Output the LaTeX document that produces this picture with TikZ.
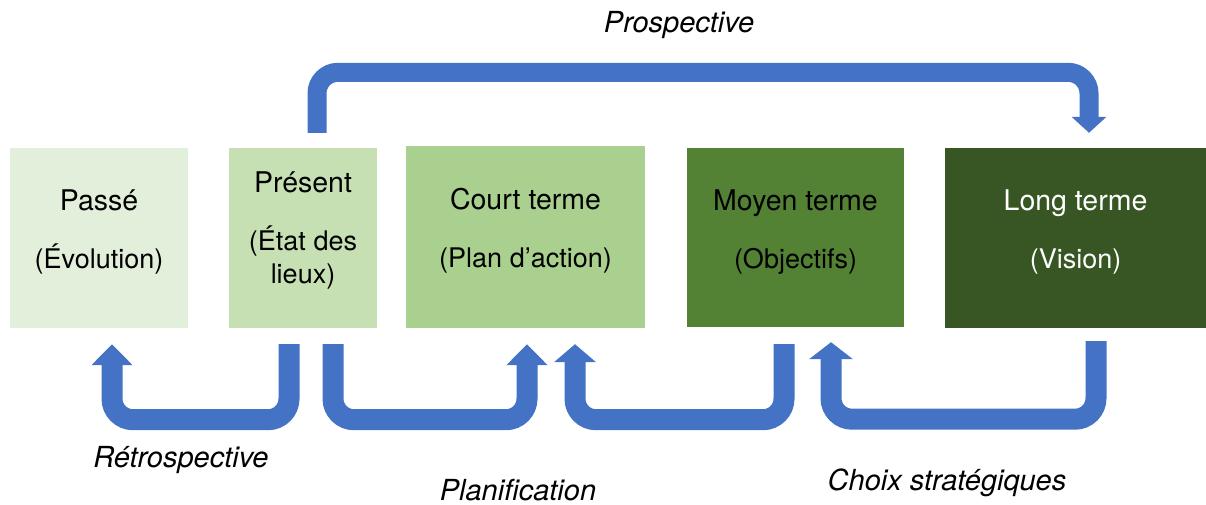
\documentclass[tikz,border=0pt]{standalone}
\usepackage{fontspec}
\setmainfont{TeX Gyre Heros}
\usetikzlibrary{arrows.meta}

\definecolor{cpasse}{HTML}{E2EFDA}
\definecolor{cpresent}{HTML}{C6E0B4}
\definecolor{ccourt}{HTML}{A9D08E}
\definecolor{cmoyen}{HTML}{548235}
\definecolor{clong}{HTML}{375623}
\definecolor{flowblue}{HTML}{4472C4}

\tikzset{
  stage/.style={inner sep=0pt, draw=none},
  ttl/.style={anchor=base, inner sep=0pt, font=\fontsize{28.5}{33}\selectfont},
  sub/.style={anchor=base, inner sep=0pt, font=\fontsize{27}{33}\selectfont},
  lbl/.style={anchor=base, inner sep=0pt, font=\fontsize{29}{33}\selectfont\itshape},
  flow/.style={draw=flowblue, line width=21pt, rounded corners=21pt,
    -{Triangle[width=40pt,length=21pt]}},
}

\begin{document}
\begin{tikzpicture}[x=1pt,y=-1pt]
    \useasboundingbox (0,0) rectangle (1206,504);

    % les cinq horizons
    \node[stage, fill=cpasse, minimum width=178pt, minimum height=180pt] (passe) at (99,238) {};
    \node[stage, fill=cpresent, minimum width=148pt, minimum height=180pt] (present) at (303,238) {};
    \node[stage, fill=ccourt, minimum width=239pt, minimum height=182pt] (court) at (525.5,237) {};
    \node[stage, fill=cmoyen, minimum width=217pt, minimum height=179pt] (moyen) at (795.5,237.5) {};
    \node[stage, fill=clong, minimum width=261pt, minimum height=180pt] (long) at (1075.5,238) {};

    % textes des cases
    \node[ttl] (passe-t) at (99,210) {Passé};
    \node[sub] (passe-s) at (99,268) {(Évolution)};
    \node[ttl] (present-t) at (303,192) {Présent};
    \node[sub] (present-s) at (303,250) {(État des};
    \node[sub] (present-u) at (303,283) {lieux)};
    \node[ttl] (court-t) at (525.5,209) {Court terme};
    \node[sub] (court-s) at (525.5,267) {(Plan d’action)};
    \node[ttl] (moyen-t) at (795.5,210) {Moyen terme};
    \node[sub] (moyen-s) at (795.5,268) {(Objectifs)};
    \node[ttl, text=white] (long-t) at (1075.5,210) {Long terme};
    \node[sub, text=white] (long-s) at (1075.5,268) {(Vision)};

    % fleches
    \draw[flow, line width=19pt, -{Triangle[width=34pt,length=16pt]}]
        ([xshift=14pt,yshift=15pt]present.north) -- ++(0,-60.5) -| ([xshift=13.5pt,yshift=15pt]long.north);
    \draw[flow] ([xshift=-14pt,yshift=-16pt]present.south) -- ++(0,75.5) -| ([xshift=13pt,yshift=-16pt]passe.south);
    \draw[flow] ([xshift=30pt,yshift=-16pt]present.south) -- ++(0,75.5) -| ([xshift=1.5pt,yshift=-16pt]court.south);
    \draw[flow, -{Triangle[width=41pt,length=18pt]}]
        ([xshift=-11.5pt,yshift=-17pt]moyen.south) -- ++(0,75.5) -| ([xshift=49.5pt,yshift=-16pt]court.south);
    \draw[flow, -{Triangle[width=43pt,length=17pt]}]
        ([xshift=20.5pt,yshift=-13pt]long.south) -- ++(0,78) -| ([xshift=35.5pt,yshift=-15pt]moyen.south);

    % libelles
    \node[lbl] (prosp) at (679,32) {Prospective};
    \node[lbl] (retro) at (181,467) {Rétrospective};
    \node[lbl] (planif) at (518,500) {Planification};
    \node[lbl] (choix) at (947,490) {Choix stratégiques};
\end{tikzpicture}
\end{document}
